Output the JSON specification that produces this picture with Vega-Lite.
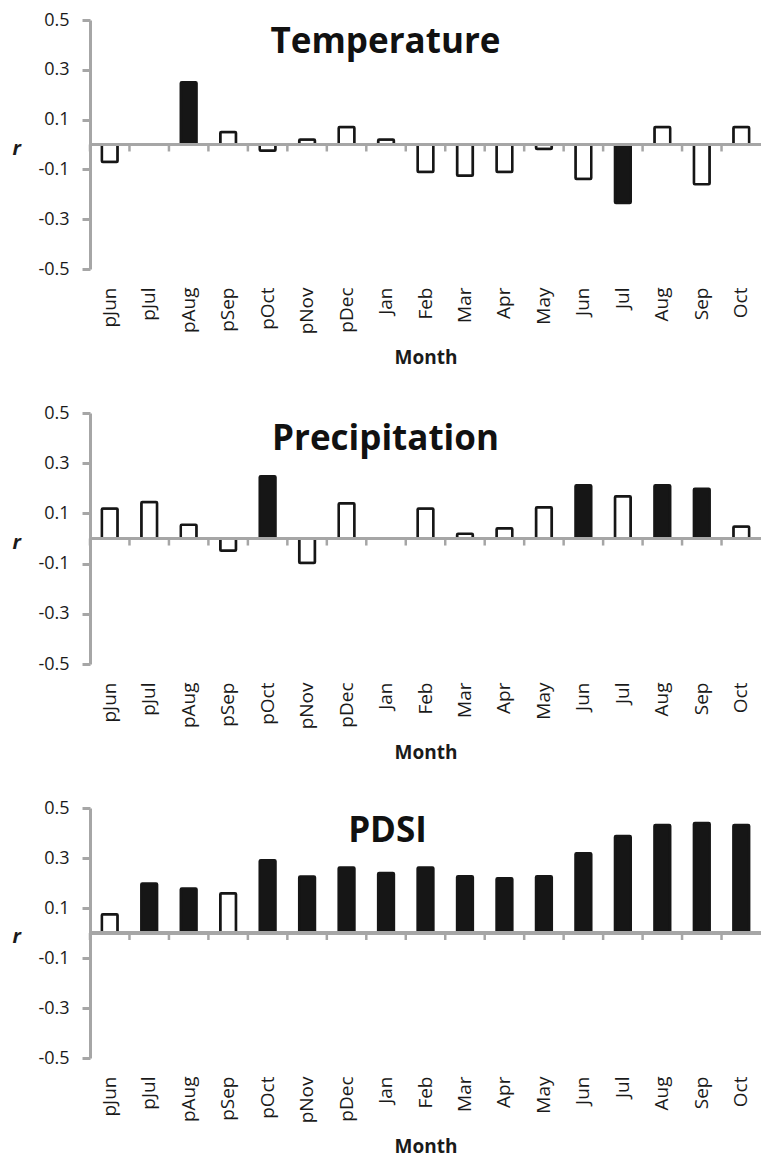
{
  "$schema": "https://vega.github.io/schema/vega-lite/v6.json",
  "padding": {"left": 12, "top": 11, "right": 0, "bottom": 6},
  "background": "white",
  "datasets": {
    "months": [
      {"month": "pJun"}, {"month": "pJul"}, {"month": "pAug"}, {"month": "pSep"}, {"month": "pOct"}, {"month": "pNov"}, {"month": "pDec"},
      {"month": "Jan"}, {"month": "Feb"}, {"month": "Mar"}, {"month": "Apr"}, {"month": "May"}, {"month": "Jun"}, {"month": "Jul"},
      {"month": "Aug"}, {"month": "Sep"}, {"month": "Oct"}
    ],
    "temp": [
      {"month": "pJun", "r": -0.07, "sig": "no"},
      {"month": "pAug", "r": 0.25, "sig": "yes"},
      {"month": "pSep", "r": 0.05, "sig": "no"},
      {"month": "pOct", "r": -0.025, "sig": "no"},
      {"month": "pNov", "r": 0.02, "sig": "no"},
      {"month": "pDec", "r": 0.07, "sig": "no"},
      {"month": "Jan", "r": 0.02, "sig": "no"},
      {"month": "Feb", "r": -0.11, "sig": "no"},
      {"month": "Mar", "r": -0.125, "sig": "no"},
      {"month": "Apr", "r": -0.11, "sig": "no"},
      {"month": "May", "r": -0.018, "sig": "no"},
      {"month": "Jun", "r": -0.139, "sig": "no"},
      {"month": "Jul", "r": -0.235, "sig": "yes"},
      {"month": "Aug", "r": 0.07, "sig": "no"},
      {"month": "Sep", "r": -0.16, "sig": "no"},
      {"month": "Oct", "r": 0.07, "sig": "no"}
    ],
    "precip": [
      {"month": "pJun", "r": 0.12, "sig": "no"},
      {"month": "pJul", "r": 0.145, "sig": "no"},
      {"month": "pAug", "r": 0.055, "sig": "no"},
      {"month": "pSep", "r": -0.049, "sig": "no"},
      {"month": "pOct", "r": 0.248, "sig": "yes"},
      {"month": "pNov", "r": -0.098, "sig": "no"},
      {"month": "pDec", "r": 0.14, "sig": "no"},
      {"month": "Feb", "r": 0.12, "sig": "no"},
      {"month": "Mar", "r": 0.019, "sig": "no"},
      {"month": "Apr", "r": 0.041, "sig": "no"},
      {"month": "May", "r": 0.125, "sig": "no"},
      {"month": "Jun", "r": 0.212, "sig": "yes"},
      {"month": "Jul", "r": 0.168, "sig": "no"},
      {"month": "Aug", "r": 0.212, "sig": "yes"},
      {"month": "Sep", "r": 0.198, "sig": "yes"},
      {"month": "Oct", "r": 0.048, "sig": "no"}
    ],
    "pdsi": [
      {"month": "pJun", "r": 0.075, "sig": "no"},
      {"month": "pJul", "r": 0.198, "sig": "yes"},
      {"month": "pAug", "r": 0.178, "sig": "yes"},
      {"month": "pSep", "r": 0.159, "sig": "no"},
      {"month": "pOct", "r": 0.291, "sig": "yes"},
      {"month": "pNov", "r": 0.226, "sig": "yes"},
      {"month": "pDec", "r": 0.262, "sig": "yes"},
      {"month": "Jan", "r": 0.24, "sig": "yes"},
      {"month": "Feb", "r": 0.262, "sig": "yes"},
      {"month": "Mar", "r": 0.227, "sig": "yes"},
      {"month": "Apr", "r": 0.219, "sig": "yes"},
      {"month": "May", "r": 0.227, "sig": "yes"},
      {"month": "Jun", "r": 0.319, "sig": "yes"},
      {"month": "Jul", "r": 0.388, "sig": "yes"},
      {"month": "Aug", "r": 0.432, "sig": "yes"},
      {"month": "Sep", "r": 0.44, "sig": "yes"},
      {"month": "Oct", "r": 0.432, "sig": "yes"}
    ]
  },
  "vconcat": [
    {
      "width": 671, "height": 249,
      "title": {"text": "Temperature", "frame": "group", "anchor": "middle", "baseline": "alphabetic", "offset": -41, "dx": -40, "dy": 36, "fontSize": 35, "font": "Open Sans", "fontWeight": "bold", "color": "#111111"},
      "layer": [
        {
          "data": {"name": "temp"},
          "mark": {"type": "bar", "width": {"band": 0.4}, "stroke": "#161616", "strokeWidth": 2.5, "cornerRadius": 1},
          "encoding": {
            "x": {"field": "month", "type": "nominal", "sort": null,
              "scale": {"domain": ["pJun","pJul","pAug","pSep","pOct","pNov","pDec","Jan","Feb","Mar","Apr","May","Jun","Jul","Aug","Sep","Oct"], "paddingInner": 0, "paddingOuter": 0},
              "axis": {"orient": "bottom", "domain": false, "ticks": false, "tickSize": 0, "labelAngle": -90, "labelPadding": 18, "labelFontSize": 19, "labelFont": "Open Sans", "labelColor": "#1a1a1a", "title": "Month", "titleFontSize": 19, "titleFont": "Open Sans", "titleFontWeight": "bold", "titleColor": "#1a1a1a", "titlePadding": 15}},
            "y": {"field": "r", "type": "quantitative",
              "scale": {"domain": [-0.5, 0.5], "nice": false, "zero": false},
              "axis": {"values": [-0.5, -0.3, -0.1, 0.1, 0.3, 0.5], "format": ".1f", "labelExpr": "replace(datum.label, '−', '-')", "grid": false,
                "domainColor": "#a6a6a6", "domainWidth": 3, "tickColor": "#a6a6a6", "tickWidth": 3, "tickSize": 8,
                "labelFontSize": 18, "labelFont": "Open Sans", "labelColor": "#1a1a1a", "labelPadding": 13,
                "title": "r", "titleAngle": 0, "titleX": -78, "titleY": 128, "titleAlign": "left", "titleBaseline": "middle", "titleFontStyle": "italic", "titleFontWeight": "bold", "titleFontSize": 20, "titleFont": "Open Sans", "titleColor": "#1a1a1a"}},
            "fill": {"field": "sig", "type": "nominal", "scale": {"domain": ["yes", "no"], "range": ["#161616", "#ffffff"]}, "legend": null}
          }
        },
        {
          "data": {"name": "months"},
          "mark": {"type": "rule", "color": "#a6a6a6", "strokeWidth": 3},
          "encoding": {"y": {"datum": 0}}
        },
        {
          "data": {"name": "months"},
          "mark": {"type": "rule", "color": "#a6a6a6", "strokeWidth": 2.5},
          "encoding": {
            "x": {"field": "month", "type": "nominal", "sort": null, "bandPosition": 0},
            "y": {"datum": 0},
            "y2": {"datum": -0.028}
          }
        }
      ]
    },
    {
      "width": 671, "height": 251,
      "title": {"text": "Precipitation", "frame": "group", "anchor": "middle", "baseline": "alphabetic", "offset": -41, "dx": -40, "dy": 40, "fontSize": 35, "font": "Open Sans", "fontWeight": "bold", "color": "#111111"},
      "layer": [
        {
          "data": {"name": "precip"},
          "mark": {"type": "bar", "width": {"band": 0.4}, "stroke": "#161616", "strokeWidth": 2.5, "cornerRadius": 1},
          "encoding": {
            "x": {"field": "month", "type": "nominal", "sort": null,
              "scale": {"domain": ["pJun","pJul","pAug","pSep","pOct","pNov","pDec","Jan","Feb","Mar","Apr","May","Jun","Jul","Aug","Sep","Oct"], "paddingInner": 0, "paddingOuter": 0},
              "axis": {"orient": "bottom", "domain": false, "ticks": false, "tickSize": 0, "labelAngle": -90, "labelPadding": 18, "labelFontSize": 19, "labelFont": "Open Sans", "labelColor": "#1a1a1a", "title": "Month", "titleFontSize": 19, "titleFont": "Open Sans", "titleFontWeight": "bold", "titleColor": "#1a1a1a", "titlePadding": 15}},
            "y": {"field": "r", "type": "quantitative",
              "scale": {"domain": [-0.5, 0.5], "nice": false, "zero": false},
              "axis": {"values": [-0.5, -0.3, -0.1, 0.1, 0.3, 0.5], "format": ".1f", "labelExpr": "replace(datum.label, '−', '-')", "grid": false,
                "domainColor": "#a6a6a6", "domainWidth": 3, "tickColor": "#a6a6a6", "tickWidth": 3, "tickSize": 8,
                "labelFontSize": 18, "labelFont": "Open Sans", "labelColor": "#1a1a1a", "labelPadding": 13,
                "title": "r", "titleAngle": 0, "titleX": -78, "titleY": 129, "titleAlign": "left", "titleBaseline": "middle", "titleFontStyle": "italic", "titleFontWeight": "bold", "titleFontSize": 20, "titleFont": "Open Sans", "titleColor": "#1a1a1a"}},
            "fill": {"field": "sig", "type": "nominal", "scale": {"domain": ["yes", "no"], "range": ["#161616", "#ffffff"]}, "legend": null}
          }
        },
        {
          "data": {"name": "months"},
          "mark": {"type": "rule", "color": "#a6a6a6", "strokeWidth": 3},
          "encoding": {"y": {"datum": 0}}
        },
        {
          "data": {"name": "months"},
          "mark": {"type": "rule", "color": "#a6a6a6", "strokeWidth": 2.5},
          "encoding": {
            "x": {"field": "month", "type": "nominal", "sort": null, "bandPosition": 0},
            "y": {"datum": 0},
            "y2": {"datum": -0.028}
          }
        }
      ]
    },
    {
      "width": 671, "height": 250,
      "title": {"text": "PDSI", "frame": "group", "anchor": "middle", "baseline": "alphabetic", "offset": -41, "dx": -38, "dy": 37, "fontSize": 35, "font": "Open Sans", "fontWeight": "bold", "color": "#111111"},
      "layer": [
        {
          "data": {"name": "pdsi"},
          "mark": {"type": "bar", "width": {"band": 0.4}, "stroke": "#161616", "strokeWidth": 2.5, "cornerRadius": 1},
          "encoding": {
            "x": {"field": "month", "type": "nominal", "sort": null,
              "scale": {"domain": ["pJun","pJul","pAug","pSep","pOct","pNov","pDec","Jan","Feb","Mar","Apr","May","Jun","Jul","Aug","Sep","Oct"], "paddingInner": 0, "paddingOuter": 0},
              "axis": {"orient": "bottom", "domain": false, "ticks": false, "tickSize": 0, "labelAngle": -90, "labelPadding": 18, "labelFontSize": 19, "labelFont": "Open Sans", "labelColor": "#1a1a1a", "title": "Month", "titleFontSize": 19, "titleFont": "Open Sans", "titleFontWeight": "bold", "titleColor": "#1a1a1a", "titlePadding": 15}},
            "y": {"field": "r", "type": "quantitative",
              "scale": {"domain": [-0.5, 0.5], "nice": false, "zero": false},
              "axis": {"values": [-0.5, -0.3, -0.1, 0.1, 0.3, 0.5], "format": ".1f", "labelExpr": "replace(datum.label, '−', '-')", "grid": false,
                "domainColor": "#a6a6a6", "domainWidth": 3, "tickColor": "#a6a6a6", "tickWidth": 3, "tickSize": 8,
                "labelFontSize": 18, "labelFont": "Open Sans", "labelColor": "#1a1a1a", "labelPadding": 13,
                "title": "r", "titleAngle": 0, "titleX": -78, "titleY": 128, "titleAlign": "left", "titleBaseline": "middle", "titleFontStyle": "italic", "titleFontWeight": "bold", "titleFontSize": 20, "titleFont": "Open Sans", "titleColor": "#1a1a1a"}},
            "fill": {"field": "sig", "type": "nominal", "scale": {"domain": ["yes", "no"], "range": ["#161616", "#ffffff"]}, "legend": null}
          }
        },
        {
          "data": {"name": "months"},
          "mark": {"type": "rule", "color": "#a6a6a6", "strokeWidth": 3},
          "encoding": {"y": {"datum": 0}}
        },
        {
          "data": {"name": "months"},
          "mark": {"type": "rule", "color": "#a6a6a6", "strokeWidth": 2.5},
          "encoding": {
            "x": {"field": "month", "type": "nominal", "sort": null, "bandPosition": 0},
            "y": {"datum": 0},
            "y2": {"datum": -0.028}
          }
        }
      ]
    }
  ],
  "spacing": 144,
  "bounds": "flush",
  "config": {
    "view": {"stroke": null},
    "font": "Open Sans"
  }
}
